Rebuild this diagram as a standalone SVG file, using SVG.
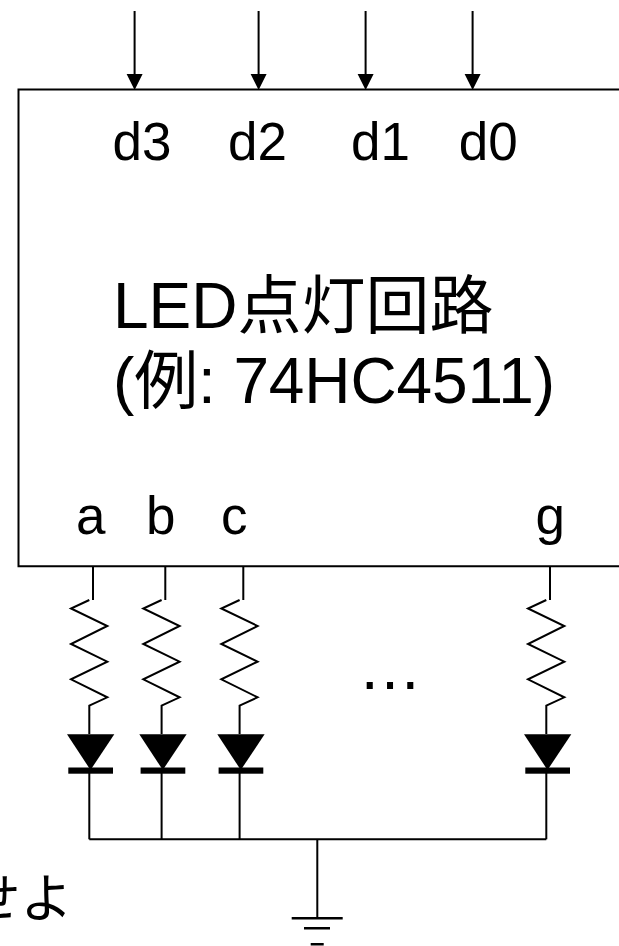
<svg xmlns="http://www.w3.org/2000/svg" width="619" height="946" viewBox="0 0 619 946">
<style>
.w{fill:none;stroke:#000;stroke-width:2}
.t{font-family:"Liberation Sans","Noto Sans CJK JP",sans-serif;font-size:53px;fill:#000}
.b{font-size:64px}
.j{font-family:"Noto Sans CJK JP",sans-serif;font-size:52px;fill:#000}
.h{fill:#000}
.g{fill:none;stroke:#000;stroke-width:2.600}
</style>
<defs>
<g id="led">
<path class="w" d="M93 566V600M89.300 600L71 608.500L107.300 626L71 644L107.300 661.700L71 679.300L107.300 697.300L89.300 705.700V734"/>
<path class="h" d="M67 734.300H114.300L90.500 770Z"/>
<rect class="h" x="68.300" y="767.500" width="44.700" height="6.200"/>
<path class="w" d="M89.300 773V839.300"/>
</g>
</defs>
<rect width="619" height="946" fill="#fff"/>
<g id="connectors">
<g id="inputs">
<path class="w" d="M134.600 11V76M258.600 11V76M365.600 11V76M472.600 11V76"/>
<path class="h" d="M126.600 74H142.600L134.600 90ZM250.600 74H266.600L258.600 90ZM357.600 74H373.600L365.600 90ZM464.600 74H480.600L472.600 90Z"/>
</g>
<use href="#led"/>
<use href="#led" x="72.300"/>
<use href="#led" x="150.300"/>
<use href="#led" x="457"/>
<path class="w" d="M89.300 839.300H546.300M317.300 839.300V918"/>
<path class="g" d="M291.700 918.300H342.700M304 928.300H330M310.700 944.300H323.700"/>
</g>
<g id="chip">
<path class="w" d="M619 89.500H18.500V566.300H619"/>
<text class="t" x="112.500" y="160">d3</text>
<text class="t" x="228" y="160">d2</text>
<text class="t" x="351" y="160">d1</text>
<text class="t" x="458.700" y="160">d0</text>
<text class="t b" x="113" y="328">LED点灯回路</text>
<text class="t b" x="113" y="403" textLength="442">(例: 74HC4511)</text>
<text class="t" x="76" y="534">a</text>
<text class="t" x="146" y="534">b</text>
<text class="t" x="221" y="534">c</text>
<text class="t" x="535.500" y="534">g</text>
</g>
<text class="t b" x="358" y="689">…</text>
<text class="j" x="-31.400" y="916.600">せよ</text>
</svg>
